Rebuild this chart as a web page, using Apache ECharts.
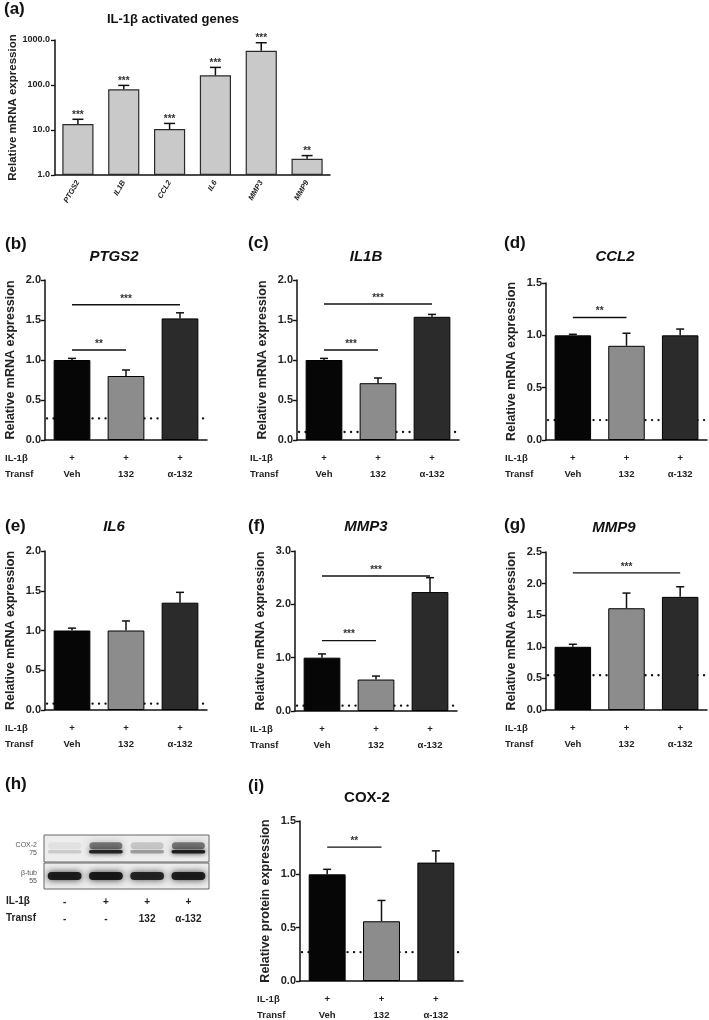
<!DOCTYPE html>
<html><head><meta charset="utf-8">
<script src="https://cdn.jsdelivr.net/npm/echarts@6/dist/echarts.min.js"></script>
<style>html,body{margin:0;padding:0;background:#fff}#c{width:709px;height:1020px}</style>
</head><body><div id="c"></div><script>
// ---------- data ----------
const genes = ['PTGS2','IL1B','CCL2','IL6','MMP3','MMP9'];
const foldMean = [13.6, 80, 10.5, 164, 579, 2.3];
const foldErrTop = [17.3, 98, 14, 246, 870, 2.7];
const foldStars = ['***','***','***','***','***','**'];
const foldTicks = [1, 10, 100, 1000];

const treatments = ['Veh','132','α-132'];
const il1bRow = ['+','+','+'];
const rowNames = ['IL-1β','Transf'];

const ptgs2Mean = [1.0, 0.80, 1.52];
const ptgs2Err  = [1.02, 0.875, 1.59];
const ptgs2Dot  = 0.27;
const ptgs2Sig  = [[0,2,1.69,'***'],[0,1,1.125,'**']];

const il1bMean = [1.0, 0.71, 1.54];
const il1bErr  = [1.02, 0.775, 1.57];
const il1bDot  = 0.1;
const il1bSig  = [[0,2,1.7,'***'],[0,1,1.125,'***']];

const ccl2Mean = [1.0, 0.90, 1.0];
const ccl2Err  = [1.01, 1.02, 1.06];
const ccl2Dot  = 0.19;
const ccl2Sig  = [[0,1,1.17,'**']];

const il6Mean = [1.0, 1.0, 1.35];
const il6Err  = [1.03, 1.12, 1.48];
const il6Dot  = 0.08;
const il6Sig  = [];

const mmp3Mean = [1.0, 0.59, 2.23];
const mmp3Err  = [1.07, 0.655, 2.5];
const mmp3Dot  = 0.1;
const mmp3Sig  = [[0,2,2.53,'***'],[0,1,1.32,'***']];

const mmp9Mean = [1.0, 1.61, 1.79];
const mmp9Err  = [1.04, 1.85, 1.95];
const mmp9Dot  = 0.55;
const mmp9Sig  = [[0,2,2.17,'***']];

const cox2Mean = [1.0, 0.56, 1.11];
const cox2Err  = [1.047, 0.755, 1.22];
const cox2Dot  = 0.27;
const cox2Sig  = [[0,1,1.255,'**']];

// western blot (h): band intensities per lane
const blotIL1b   = ['-','+','+','+'];
const blotTransf = ['-','-','132','α-132'];
const coxUpperBand = [0.05, 0.5, 0.16, 0.5];
const coxLowerBand = [0.14, 0.85, 0.33, 0.9];
const tubBand      = [0.9, 0.92, 0.85, 0.9];

// ---------- styling ----------
const FONT = '"Liberation Sans", Arial, Helvetica, sans-serif';
const barColors = ['#060606', '#8c8c8c', '#2b2b2b'];
const INK = '#111';

const panels = [
  {tag:'(b)', tagX:5,   tagY:244, title:'PTGS2', italic:true, tX:114, tY:257, left:45,  top:280, width:162, height:160, max:2.0, interval:0.5, mean:ptgs2Mean, err:ptgs2Err, dot:ptgs2Dot, sig:ptgs2Sig, rowX:5,   yName:'Relative mRNA expression'},
  {tag:'(c)', tagX:248, tagY:243, title:'IL1B',  italic:true, tX:366, tY:257, left:297, top:280, width:162, height:160, max:2.0, interval:0.5, mean:il1bMean, err:il1bErr, dot:il1bDot, sig:il1bSig, rowX:250, yName:'Relative mRNA expression'},
  {tag:'(d)', tagX:504, tagY:243, title:'CCL2',  italic:true, tX:615, tY:257, left:546, top:283, width:161, height:157, max:1.5, interval:0.5, mean:ccl2Mean, err:ccl2Err, dot:ccl2Dot, sig:ccl2Sig, rowX:505, yName:'Relative mRNA expression'},
  {tag:'(e)', tagX:5,   tagY:526, title:'IL6',   italic:true, tX:114, tY:527, left:45,  top:551, width:162, height:159, max:2.0, interval:0.5, mean:il6Mean, err:il6Err, dot:il6Dot, sig:il6Sig, rowX:5,   yName:'Relative mRNA expression'},
  {tag:'(f)', tagX:248, tagY:526, title:'MMP3',  italic:true, tX:366, tY:527, left:295, top:551, width:162, height:160, max:3.0, interval:1.0, mean:mmp3Mean, err:mmp3Err, dot:mmp3Dot, sig:mmp3Sig, rowX:250, yName:'Relative mRNA expression'},
  {tag:'(g)', tagX:504, tagY:525, title:'MMP9',  italic:true, tX:614, tY:528, left:546, top:552, width:161, height:158, max:2.5, interval:0.5, mean:mmp9Mean, err:mmp9Err, dot:mmp9Dot, sig:mmp9Sig, rowX:505, yName:'Relative mRNA expression'},
  {tag:'(i)', tagX:248, tagY:786, title:'COX-2', italic:false,tX:367, tY:798, left:300, top:821, width:163, height:160, max:1.5, interval:0.5, mean:cox2Mean, err:cox2Err, dot:cox2Dot, sig:cox2Sig, rowX:257, yName:'Relative protein expression'}
];

const grid = [], xAxis = [], yAxis = [], series = [], graphic = [];

function errSeries(idx, means, tops, capW){
  return {type:'custom', xAxisIndex:idx, yAxisIndex:idx, z:4, silent:true,
    data: means.map((m,k)=>[k, tops[k], m]), encode:{x:0, y:1},
    renderItem:(params, api)=>{
      const x = api.value(0);
      const t = api.coord([x, api.value(1)]);
      const b = api.coord([x, api.value(2)]);
      return {type:'group', children:[
        {type:'line', shape:{x1:t[0], y1:b[1], x2:t[0], y2:t[1]}, style:{stroke:INK, lineWidth:1.5}},
        {type:'line', shape:{x1:t[0]-capW/2, y1:t[1], x2:t[0]+capW/2, y2:t[1]}, style:{stroke:INK, lineWidth:1.5}}
      ]};
    }};
}

// ---------- panel (a) ----------
grid.push({left:55, top:40, width:275, height:135});
xAxis.push({type:'category', gridIndex:0, data:genes,
  axisLine:{lineStyle:{color:INK, width:1.5}},
  axisTick:{alignWithLabel:true, length:4, lineStyle:{color:INK, width:1.3}},
  axisLabel:{rotate:60, interval:0, margin:6, fontSize:7.5, fontStyle:'italic', fontWeight:'bold', color:'#222', fontFamily:FONT}});
yAxis.push({type:'log', gridIndex:0, logBase:10, min:foldTicks[0], max:foldTicks[foldTicks.length-1],
  name:'Relative mRNA expression', nameLocation:'middle', nameGap:36,
  nameTextStyle:{fontSize:11.5, fontWeight:'bold', color:'#222', fontFamily:FONT},
  axisLine:{show:true, lineStyle:{color:INK, width:1.5}},
  axisTick:{show:true, length:4, lineStyle:{color:INK, width:1.3}},
  minorTick:{show:false}, splitLine:{show:false},
  axisLabel:{formatter:v=>Number(v).toFixed(1), fontSize:9, fontWeight:'bold', color:'#222', fontFamily:FONT, margin:5}});
series.push({type:'bar', xAxisIndex:0, yAxisIndex:0, z:2, barWidth:'68%', data:foldMean,
  itemStyle:{color:'#c9c9c9', borderColor:'#2a2a2a', borderWidth:1.2}});
series.push(errSeries(0, foldMean, foldErrTop, 11));
series.push({type:'custom', xAxisIndex:0, yAxisIndex:0, z:5, silent:true,
  data: foldErrTop.map((v,k)=>[k, v]), encode:{x:0, y:1},
  renderItem:(params, api)=>{
    const p = api.coord([api.value(0), api.value(1)]);
    return {type:'text', style:{text:foldStars[params.dataIndex], x:p[0], y:p[1]-4, align:'center', verticalAlign:'middle', font:'bold 10px '+FONT, fill:'#333'}};
  }});
graphic.push({type:'text', left:4, top:1, style:{text:'(a)', font:'bold 17px '+FONT, fill:'#111'}});
graphic.push({type:'text', x:173, y:19, style:{text:'IL-1β activated genes', font:'bold 13px '+FONT, fill:'#111', align:'center', verticalAlign:'middle'}});

// ---------- panels (b)-(g), (i) ----------
panels.forEach((p, n)=>{
  const gi = n + 1;
  grid.push({left:p.left, top:p.top, width:p.width, height:p.height});
  xAxis.push({type:'category', gridIndex:gi, data:treatments,
    axisLine:{lineStyle:{color:INK, width:1.5}},
    axisTick:{alignWithLabel:true, length:4, lineStyle:{color:INK, width:1.4}},
    axisLabel:{interval:0, margin:10, color:'#222', fontFamily:FONT,
      formatter:(v,i)=>'{p|'+il1bRow[i]+'}\n{v|'+v+'}',
      rich:{p:{fontSize:9.5, fontWeight:'bold', lineHeight:16, fontFamily:FONT, color:'#222'},
            v:{fontSize:9.5, fontWeight:'bold', lineHeight:16, fontFamily:FONT, color:'#222'}}}});
  yAxis.push({type:'value', gridIndex:gi, min:0, max:p.max, interval:p.interval,
    name:p.yName, nameLocation:'middle', nameGap:28,
    nameTextStyle:{fontSize:12.5, fontWeight:'bold', color:'#222', fontFamily:FONT},
    axisLine:{show:true, lineStyle:{color:INK, width:1.5}},
    axisTick:{show:true, length:4, lineStyle:{color:INK, width:1.4}},
    splitLine:{show:false},
    axisLabel:{formatter:v=>v.toFixed(1), fontSize:11, fontWeight:'bold', color:'#222', fontFamily:FONT, margin:4}});
  // dotted baseline (behind bars)
  series.push({type:'custom', xAxisIndex:gi, yAxisIndex:gi, z:1, silent:true,
    data:[[0, p.dot]], encode:{x:0, y:1},
    renderItem:(params, api)=>{
      const cs = params.coordSys;
      const y = api.coord([0, api.value(1)])[1];
      return {type:'line', shape:{x1:cs.x+2, y1:y, x2:cs.x+cs.width, y2:y},
        style:{stroke:INK, lineWidth:2.3, lineDash:[0.1, 6.4], lineCap:'round'}};
    }});
  series.push({type:'bar', xAxisIndex:gi, yAxisIndex:gi, z:2, barWidth:'68%',
    data:p.mean.map((v,k)=>({value:v, itemStyle:{color:barColors[k]}})),
    itemStyle:{borderColor:'#000', borderWidth:1}});
  series.push(errSeries(gi, p.mean, p.err, 8));
  if (p.sig.length){
    series.push({type:'custom', xAxisIndex:gi, yAxisIndex:gi, z:5, silent:true,
      data:p.sig.map(s=>[s[0], s[2], s[1]]), encode:{x:0, y:1},
      renderItem:(params, api)=>{
        const a = api.coord([api.value(0), api.value(1)]);
        const b = api.coord([api.value(2), api.value(1)]);
        return {type:'group', children:[
          {type:'line', shape:{x1:a[0], y1:a[1], x2:b[0], y2:b[1]}, style:{stroke:INK, lineWidth:1.4}},
          {type:'text', style:{text:p.sig[params.dataIndex][3], x:(a[0]+b[0])/2, y:a[1]-6, align:'center', verticalAlign:'middle', font:'bold 10px '+FONT, fill:'#333'}}
        ]};
      }});
  }
  graphic.push({type:'text', x:p.tagX, y:p.tagY, style:{text:p.tag, font:'bold 17px '+FONT, fill:'#111', verticalAlign:'middle'}});
  graphic.push({type:'text', x:p.tX, y:p.tY, style:{text:p.title, font:(p.italic?'italic ':'')+'bold 15px '+FONT, fill:'#111', align:'center', verticalAlign:'middle'}});
  const base = p.top + p.height;
  graphic.push({type:'text', x:p.rowX, y:base+18, style:{text:rowNames[0], font:'bold 9.5px '+FONT, fill:'#222', verticalAlign:'middle'}});
  graphic.push({type:'text', x:p.rowX, y:base+34, style:{text:rowNames[1], font:'bold 9.5px '+FONT, fill:'#222', verticalAlign:'middle'}});
});

// ---------- panel (h): western blot ----------
const coxG = grid.length;
grid.push({left:44, top:835, width:165, height:27, show:true, backgroundColor:'#ededed', borderColor:'#666', borderWidth:1});
xAxis.push({type:'category', gridIndex:coxG, data:blotIL1b, show:false});
yAxis.push({type:'value', gridIndex:coxG, min:0, max:1, show:false});
const tubG = grid.length;
grid.push({left:44, top:863, width:165, height:26, show:true, backgroundColor:'#ededed', borderColor:'#666', borderWidth:1});
xAxis.push({type:'category', gridIndex:tubG, data:blotIL1b,
  axisLine:{show:false}, axisTick:{show:false},
  axisLabel:{interval:0, margin:5, color:'#222', fontFamily:FONT,
    formatter:(v,i)=>'{a|'+v+'}\n{b|'+blotTransf[i]+'}',
    rich:{a:{fontSize:10, fontWeight:'bold', lineHeight:17, fontFamily:FONT, color:'#222'},
          b:{fontSize:10, fontWeight:'bold', lineHeight:17, fontFamily:FONT, color:'#222'}}}});
yAxis.push({type:'value', gridIndex:tubG, min:0, max:1, show:false});

function bandSeries(gIdx, vals, yPos, h, wFrac, blur){
  return {type:'custom', xAxisIndex:gIdx, yAxisIndex:gIdx, z:3, silent:true, clip:true,
    data: vals.map((v,k)=>[k, v]), encode:{x:0, y:1},
    renderItem:(params, api)=>{
      const c = api.coord([api.value(0), yPos]);
      const w = api.size([1, 0])[0] * wFrac;
      const a = api.value(1);
      const col = 'rgba(15,15,15,'+a.toFixed(2)+')';
      return {type:'rect', shape:{x:c[0]-w/2, y:c[1]-h/2, width:w, height:h, r:h/2},
        style:{fill:col, shadowBlur:blur, shadowColor:col}};
    }};
}
series.push(bandSeries(coxG, coxUpperBand, 0.6, 7, 0.8, 8));
series.push(bandSeries(coxG, coxLowerBand, 0.38, 3.5, 0.82, 5));
series.push(bandSeries(tubG, tubBand, 0.5, 8, 0.82, 7));

graphic.push({type:'text', x:5, y:784, style:{text:'(h)', font:'bold 17px '+FONT, fill:'#111', verticalAlign:'middle'}});
graphic.push({type:'text', x:37, y:845, style:{text:'COX-2', font:'7px '+FONT, fill:'#555', align:'right', verticalAlign:'middle'}});
graphic.push({type:'text', x:37, y:853, style:{text:'75', font:'7px '+FONT, fill:'#555', align:'right', verticalAlign:'middle'}});
graphic.push({type:'text', x:37, y:873, style:{text:'β-tub', font:'7px '+FONT, fill:'#555', align:'right', verticalAlign:'middle'}});
graphic.push({type:'text', x:37, y:881, style:{text:'55', font:'7px '+FONT, fill:'#555', align:'right', verticalAlign:'middle'}});
graphic.push({type:'text', x:6, y:901, style:{text:rowNames[0], font:'bold 10px '+FONT, fill:'#222', verticalAlign:'middle'}});
graphic.push({type:'text', x:6, y:918, style:{text:rowNames[1], font:'bold 10px '+FONT, fill:'#222', verticalAlign:'middle'}});

const chart = echarts.init(document.getElementById('c'), null, {renderer:'canvas'});
chart.setOption({backgroundColor:'#fff', animation:false, textStyle:{fontFamily:FONT},
  grid, xAxis, yAxis, series, graphic});
</script></body></html>
